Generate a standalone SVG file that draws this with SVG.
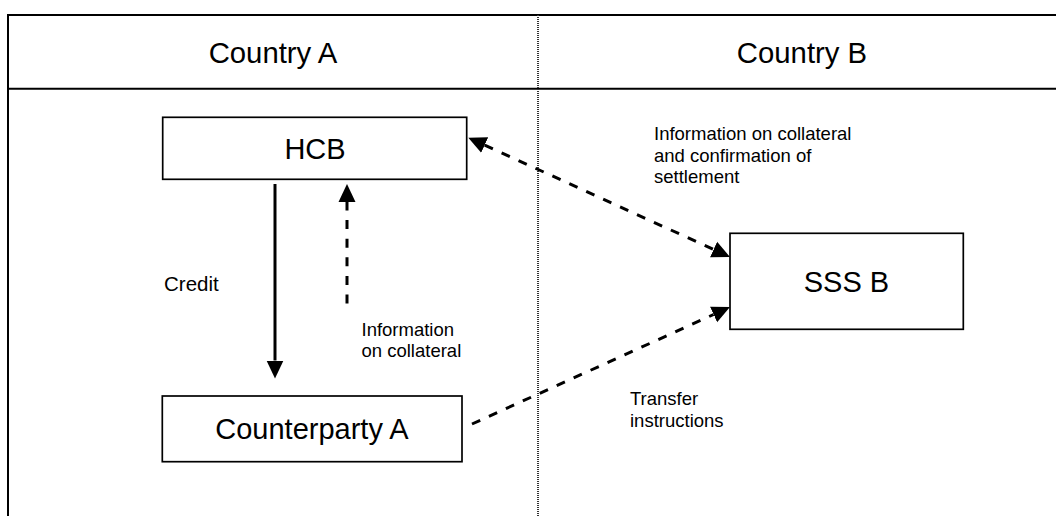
<svg xmlns="http://www.w3.org/2000/svg" width="1056" height="516" viewBox="0 0 1056 516">
  <style>
    .frame { stroke: #000; stroke-width: 2; fill: none; }
    .divider { stroke: #333; stroke-width: 2; stroke-dasharray: 1 1; fill: none; }
    .box { fill: #fff; stroke: #000; stroke-width: 1.7; }
    .head { font-family: "Liberation Sans", Arial, sans-serif; font-size: 29.3px; fill: #000; text-anchor: middle; }
    .name { font-family: "Liberation Sans", Arial, sans-serif; font-size: 29px; fill: #000; text-anchor: middle; }
    .note { font-family: "Liberation Sans", Arial, sans-serif; font-size: 18.5px; fill: #000; }
    .solid { stroke: #000; stroke-width: 3; fill: none; }
    .dash { stroke: #000; stroke-width: 3; fill: none; stroke-dasharray: 9 9.6; }
  </style>
  <defs>
    <marker id="head" markerUnits="userSpaceOnUse" markerWidth="20" markerHeight="20" viewBox="0 -10 20 20" refX="0" refY="0" orient="auto-start-reverse">
      <path d="M0,-8.5 L18,0 L0,8.5 Z" fill="#000"/>
    </marker>
  </defs>

  <rect width="1056" height="516" fill="#fff"/>

  <!-- table frame: header rules, left edge, country divider -->
  <g id="frame">
    <line class="frame" x1="8" y1="15" x2="1056" y2="15"/>
    <line class="frame" x1="8" y1="88.7" x2="1056" y2="88.7"/>
    <line class="frame" x1="8" y1="14" x2="8" y2="516"/>
    <line class="divider" x1="538" y1="15" x2="538" y2="516"/>
    <text class="head" x="273" y="63">Country A</text>
    <text class="head" x="802" y="63">Country B</text>
  </g>

  <!-- connectors -->
  <g id="connectors">
    <!-- Credit: HCB to Counterparty A -->
    <line class="solid" x1="275" y1="184" x2="275" y2="360.5" marker-end="url(#head)"/>
    <!-- Information on collateral: Counterparty A side up to HCB -->
    <line class="dash" x1="347" y1="303.5" x2="347" y2="202" marker-end="url(#head)"/>
    <!-- HCB and SSS B, both directions -->
    <line class="dash" x1="484.7" y1="145.1" x2="713.6" y2="249.5" marker-start="url(#head)" marker-end="url(#head)"/>
    <!-- Transfer instructions: Counterparty A to SSS B -->
    <line class="dash" x1="472" y1="424" x2="713.6" y2="314.5" marker-end="url(#head)"/>
  </g>

  <g id="hcb">
    <rect class="box" x="162.7" y="117.3" width="304" height="62"/>
    <text class="name" x="315" y="158.7">HCB</text>
  </g>

  <g id="counterparty-a">
    <rect class="box" x="162.3" y="396" width="299.7" height="65.7"/>
    <text class="name" x="312" y="439.2">Counterparty A</text>
  </g>

  <g id="sss-b">
    <rect class="box" x="730" y="233.3" width="233.3" height="96"/>
    <text class="name" x="846.5" y="291.7">SSS B</text>
  </g>

  <!-- connector labels -->
  <g id="labels">
    <text class="note" x="164" y="291" style="font-size:20.5px">Credit</text>
    <text class="note" x="361.5" y="336">Information</text>
    <text class="note" x="361.5" y="356.7">on collateral</text>
    <text class="note" x="654" y="140">Information on collateral</text>
    <text class="note" x="654" y="161.5">and confirmation of</text>
    <text class="note" x="654" y="183">settlement</text>
    <text class="note" x="630" y="405">Transfer</text>
    <text class="note" x="630" y="426.5">instructions</text>
  </g>
</svg>
